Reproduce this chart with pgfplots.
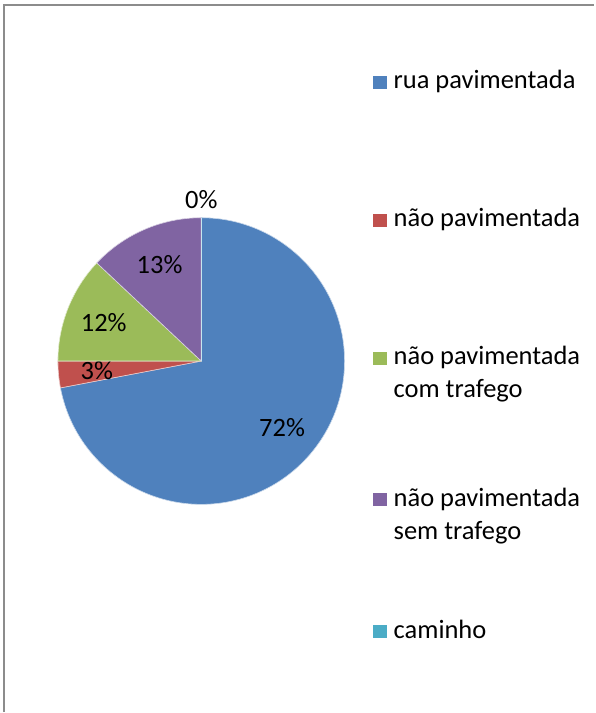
\documentclass[border=0pt]{standalone}
\usepackage{fontspec}
\setmainfont{Carlito}
\usepackage{pgfplots}
\usepackage{pgfplotstable}
\pgfplotsset{compat=1.18}
\definecolor{s1}{RGB}{79,129,189}
\definecolor{s2}{RGB}{192,80,77}
\definecolor{s3}{RGB}{155,187,89}
\definecolor{s4}{RGB}{128,100,162}
\definecolor{s5}{RGB}{75,172,198}
\definecolor{frame}{RGB}{140,140,140}

% share of each kind of road, %
\pgfplotstableread[col sep=comma]{
value,color
72,s1
3,s2
12,s3
13,s4
0,s5
}\piedata

\begin{document}
\begin{tikzpicture}[font=\fontsize{26.5bp}{32bp}\selectfont]
\begin{axis}[width=595bp,height=713bp,scale only axis,
  xmin=0,xmax=595,ymin=0,ymax=713,y dir=reverse,hide axis,clip=false]
\path (rel axis cs:0,0) rectangle (rel axis cs:1,1);
\draw[line width=1.8bp,frame] (axis cs:4.3,713) -- (axis cs:4.3,5) -- (axis cs:595,5);

% pie: centre (201.5,361.5), radius 143.5, clockwise from the top
\def\acc{90}
\pgfplotstablegetrowsof{\piedata}
\pgfmathtruncatemacro\lastrow{\pgfplotsretval-1}
\pgfplotsforeachungrouped \i in {0,...,\lastrow}{
  \pgfplotstablegetelem{\i}{value}\of\piedata \let\v\pgfplotsretval
  \pgfplotstablegetelem{\i}{color}\of\piedata \let\slicecol\pgfplotsretval
  \pgfmathsetmacro\a{\acc}
  \pgfmathsetmacro\b{\acc-3.6*\v}
  \pgfmathsetmacro\sx{201.5+143.5*cos(\a)}
  \pgfmathsetmacro\sy{361.5-143.5*sin(\a)}
  \pgfmathsetmacro\midang{(\a+\b)/2}
  \pgfmathsetmacro\lr{\v>0 ? 105 : 162}
  \pgfmathsetmacro\lx{201.5+\lr*cos(\midang)}
  \pgfmathsetmacro\ly{361.5-\lr*sin(\midang)}
  \edef\temp{\noexpand\fill[\slicecol,draw=white!70!\slicecol,line width=0.6bp]
    (axis cs:201.5,361.5) -- (axis cs:\sx,\sy)
    arc[start angle=\a,end angle=\b,radius=143.5bp] -- cycle;
    \noexpand\node at (axis cs:\lx,\ly) {\v\noexpand\%};}
  \temp
  \let\acc\b
}

% legend
\fill[s1] (axis cs:373,76) rectangle (axis cs:387,89);
\node[anchor=base west,inner sep=0pt] at (axis cs:394,89) {rua pavimentada};
\fill[s2] (axis cs:373,214) rectangle (axis cs:387,227);
\node[anchor=base west,inner sep=0pt] at (axis cs:394,227) {não pavimentada};
\fill[s3] (axis cs:373,352) rectangle (axis cs:387,365);
\node[anchor=base west,inner sep=0pt] at (axis cs:394,365) {não pavimentada};
\node[anchor=base west,inner sep=0pt] at (axis cs:394,398) {com trafego};
\fill[s4] (axis cs:373,494) rectangle (axis cs:387,507);
\node[anchor=base west,inner sep=0pt] at (axis cs:394,507) {não pavimentada};
\node[anchor=base west,inner sep=0pt] at (axis cs:394,540) {sem trafego};
\fill[s5] (axis cs:373,626) rectangle (axis cs:387,639);
\node[anchor=base west,inner sep=0pt] at (axis cs:394,639) {caminho};
\end{axis}
\end{tikzpicture}
\end{document}
